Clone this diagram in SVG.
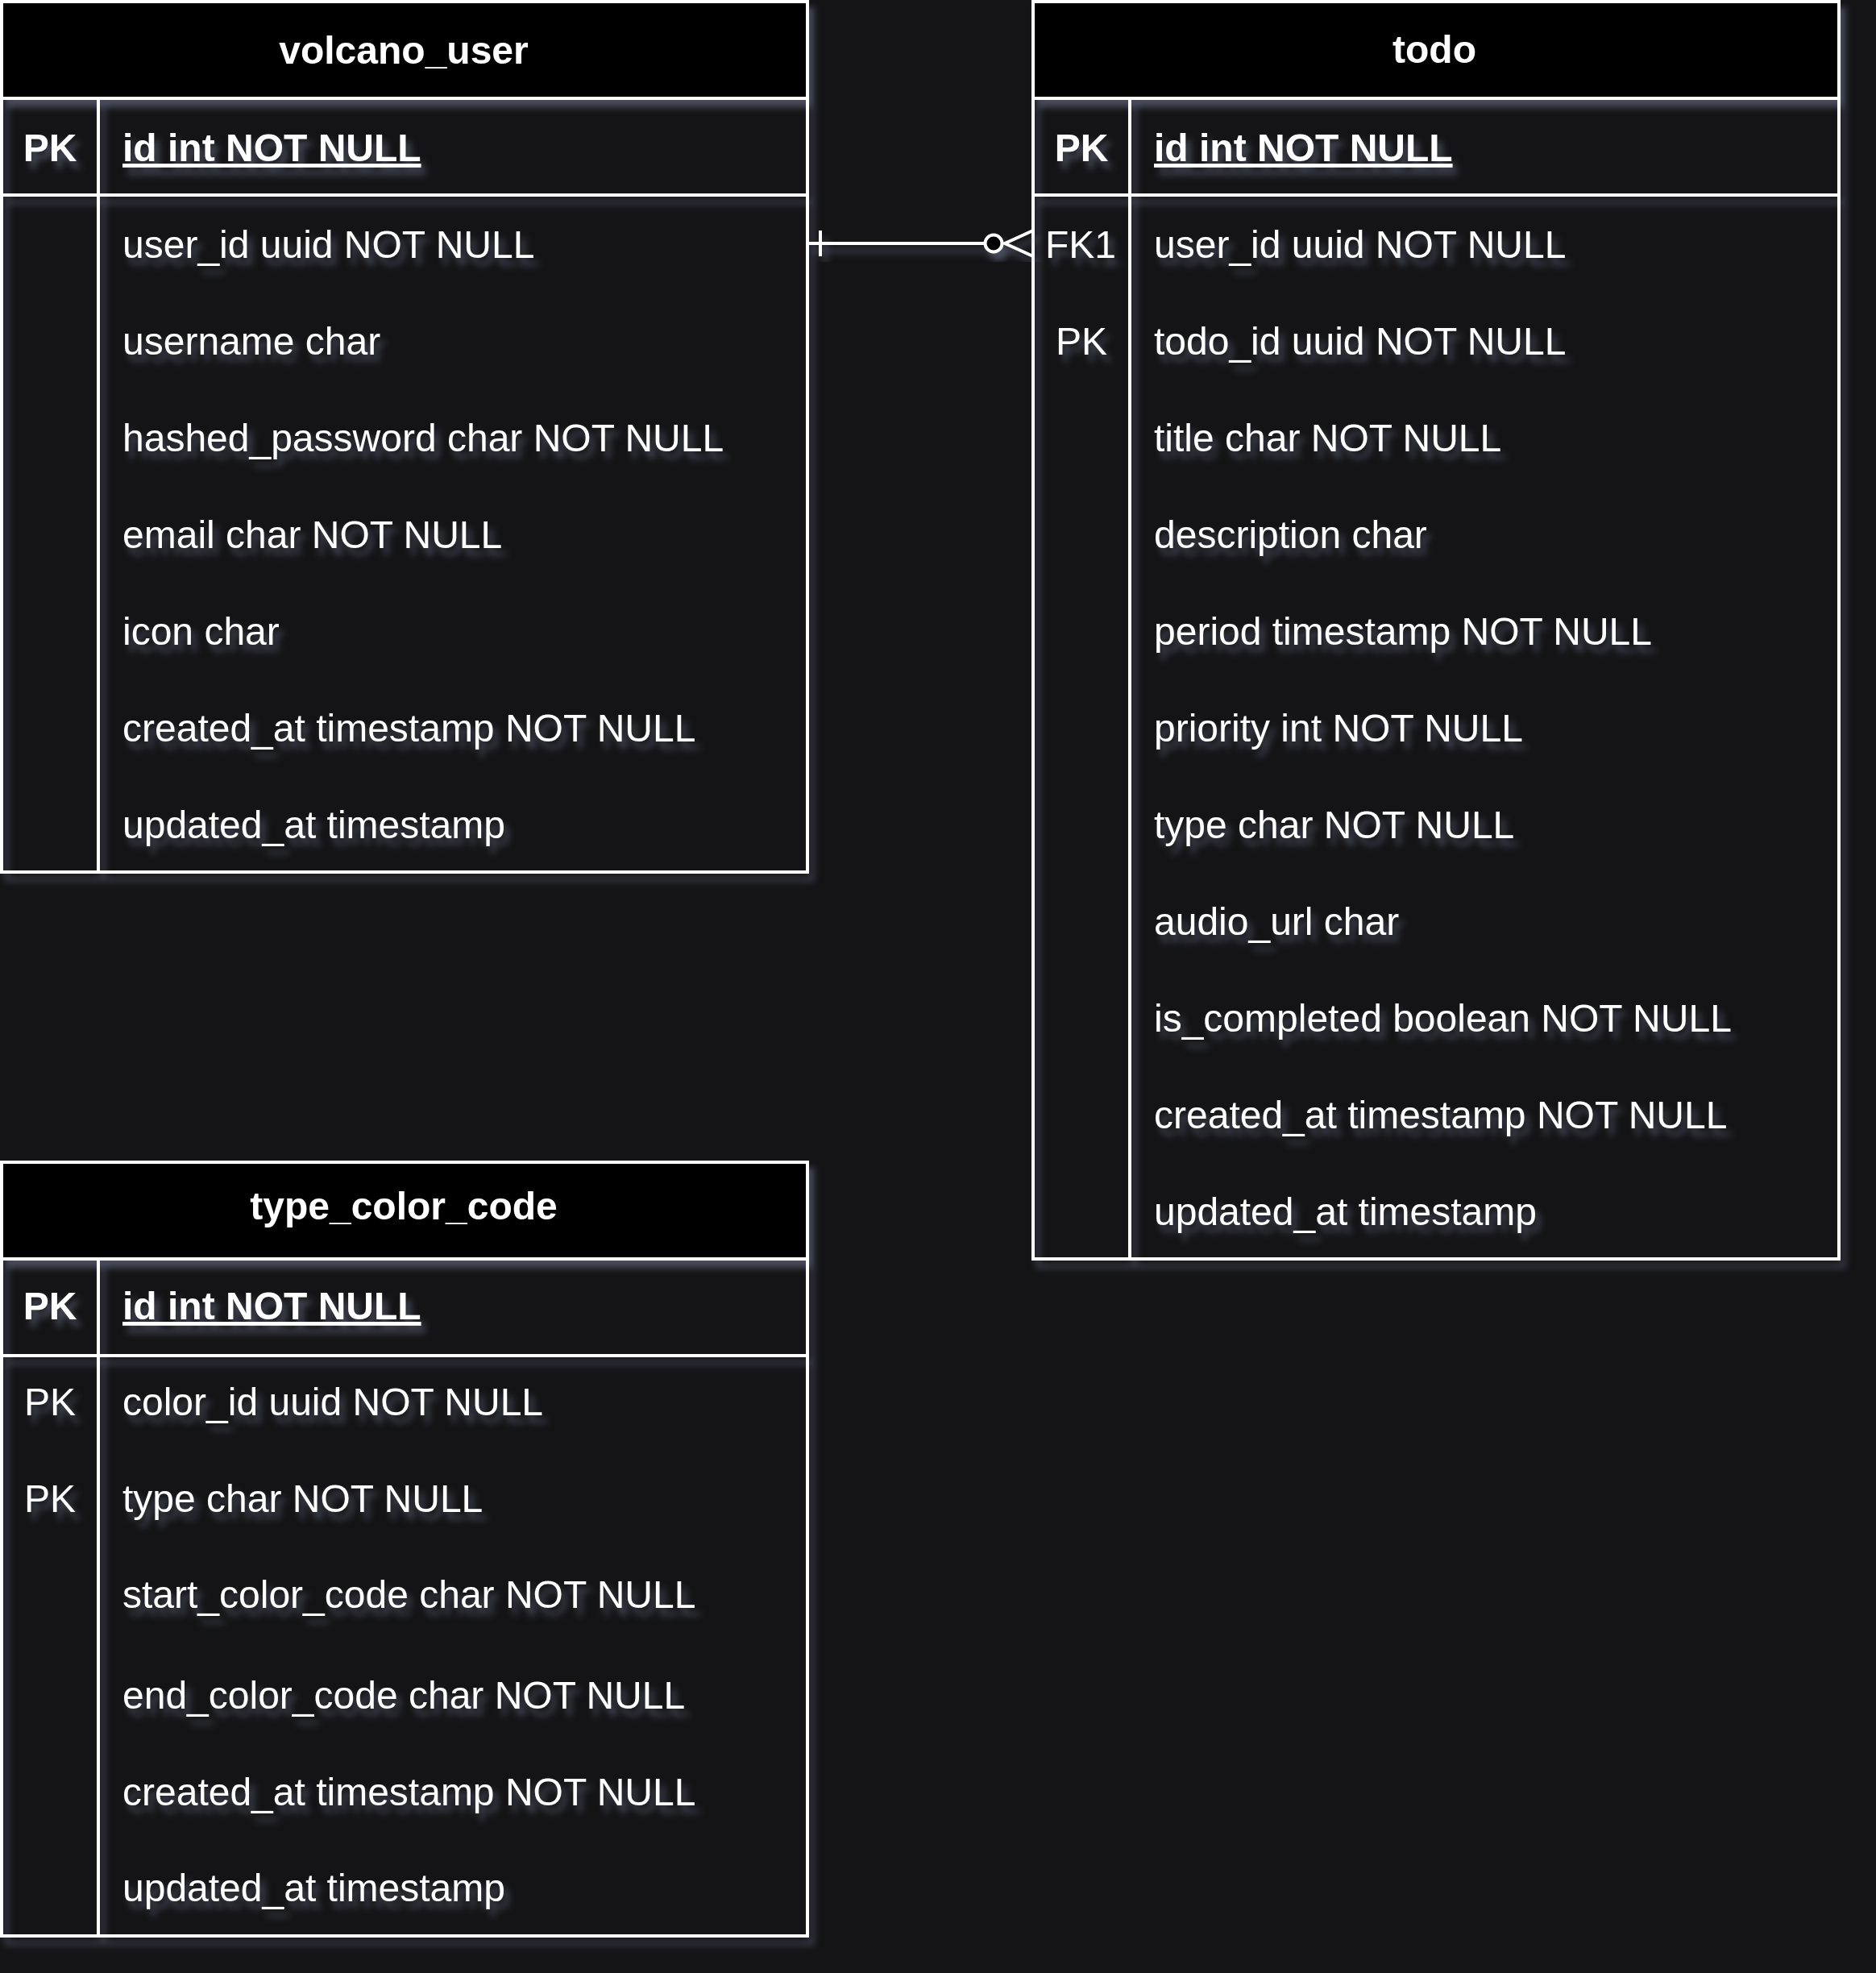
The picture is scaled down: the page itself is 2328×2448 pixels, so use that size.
<svg xmlns="http://www.w3.org/2000/svg" width="2328" height="2448" viewBox="0 0 2328 2448">
<style>
.frame{fill:none;stroke:#ffffff;stroke-width:4}
.hdr{fill:#000000;stroke:#ffffff;stroke-width:4}
.ln{stroke:#ffffff;stroke-width:4;fill:none}
text{font-family:"Liberation Sans",Arial,Helvetica,sans-serif;font-size:48px;fill:#ffffff}
.title{font-weight:bold;text-anchor:middle}
.key{text-anchor:middle}
.b{font-weight:bold}
.u{text-decoration:underline}
.glow{filter:url(#shadow)}
</style>
<defs>
<filter id="shadow" x="-10%" y="-10%" width="130%" height="130%">
<feGaussianBlur in="SourceAlpha" stdDeviation="4"/>
<feOffset dx="6" dy="9" result="b"/>
<feFlood flood-color="#8a90b0" flood-opacity="0.45"/>
<feComposite in2="b" operator="in" result="s"/>
<feMerge><feMergeNode in="s"/><feMergeNode in="SourceGraphic"/></feMerge>
</filter>
</defs>
<rect x="0" y="0" width="2328" height="2448" fill="#141416"/>

<g id="volcano_user" class="glow">
<rect class="hdr" x="2" y="2" width="1000" height="120"/>
<rect class="frame" x="2" y="2" width="1000" height="1080"/>
<line class="ln" x1="2" y1="242" x2="1002" y2="242"/>
<line class="ln" x1="122" y1="122" x2="122" y2="1082"/>
<text class="title" x="501" y="79">volcano_user</text>
<text class="key b" x="62" y="200">PK</text>
<text class="b u" x="152" y="200">id int NOT NULL</text>
<text x="152" y="320">user_id uuid NOT NULL</text>
<text x="152" y="440">username char</text>
<text x="152" y="560">hashed_password char NOT NULL</text>
<text x="152" y="680">email char NOT NULL</text>
<text x="152" y="800">icon char</text>
<text x="152" y="920">created_at timestamp NOT NULL</text>
<text x="152" y="1040">updated_at timestamp</text>
</g>

<g id="todo" class="glow">
<rect class="hdr" x="1282" y="2" width="1000" height="120"/>
<rect class="frame" x="1282" y="2" width="1000" height="1560"/>
<line class="ln" x1="1282" y1="242" x2="2282" y2="242"/>
<line class="ln" x1="1402" y1="122" x2="1402" y2="1562"/>
<text class="title" x="1780" y="78">todo</text>
<text class="key b" x="1342" y="200">PK</text>
<text class="b u" x="1432" y="200">id int NOT NULL</text>
<text class="key" x="1341" y="320">FK1</text>
<text x="1432" y="320">user_id uuid NOT NULL</text>
<text class="key" x="1342" y="440">PK</text>
<text x="1432" y="440">todo_id uuid NOT NULL</text>
<text x="1432" y="560">title char NOT NULL</text>
<text x="1432" y="680">description char</text>
<text x="1432" y="800">period timestamp NOT NULL</text>
<text x="1432" y="920">priority int NOT NULL</text>
<text x="1432" y="1040">type char NOT NULL</text>
<text x="1432" y="1160">audio_url char</text>
<text x="1432" y="1280">is_completed boolean NOT NULL</text>
<text x="1432" y="1400">created_at timestamp NOT NULL</text>
<text x="1432" y="1520">updated_at timestamp</text>
</g>

<g id="type_color_code" class="glow">
<rect class="hdr" x="2" y="1442" width="1000" height="120"/>
<rect class="frame" x="2" y="1442" width="1000" height="960"/>
<line class="ln" x1="2" y1="1682" x2="1002" y2="1682"/>
<line class="ln" x1="122" y1="1562" x2="122" y2="2402"/>
<text class="title" x="501" y="1513">type_color_code</text>
<text class="key b" x="62" y="1637">PK</text>
<text class="b u" x="152" y="1637">id int NOT NULL</text>
<text class="key" x="62" y="1756">PK</text>
<text x="152" y="1756">color_id uuid NOT NULL</text>
<text class="key" x="62" y="1876">PK</text>
<text x="152" y="1876">type char NOT NULL</text>
<text x="152" y="1995">start_color_code char NOT NULL</text>
<text x="152" y="2120">end_color_code char NOT NULL</text>
<text x="152" y="2240">created_at timestamp NOT NULL</text>
<text x="152" y="2359">updated_at timestamp</text>
</g>

<g id="connectors" class="glow">
<line class="ln" x1="1002" y1="302" x2="1222" y2="302"/>
<line class="ln" x1="1018" y1="286" x2="1018" y2="318"/>
<circle cx="1233" cy="302" r="10.5" fill="#000000" stroke="#ffffff" stroke-width="4"/>
<polyline class="ln" points="1282,286 1247,302 1282,318"/>
</g>
</svg>
